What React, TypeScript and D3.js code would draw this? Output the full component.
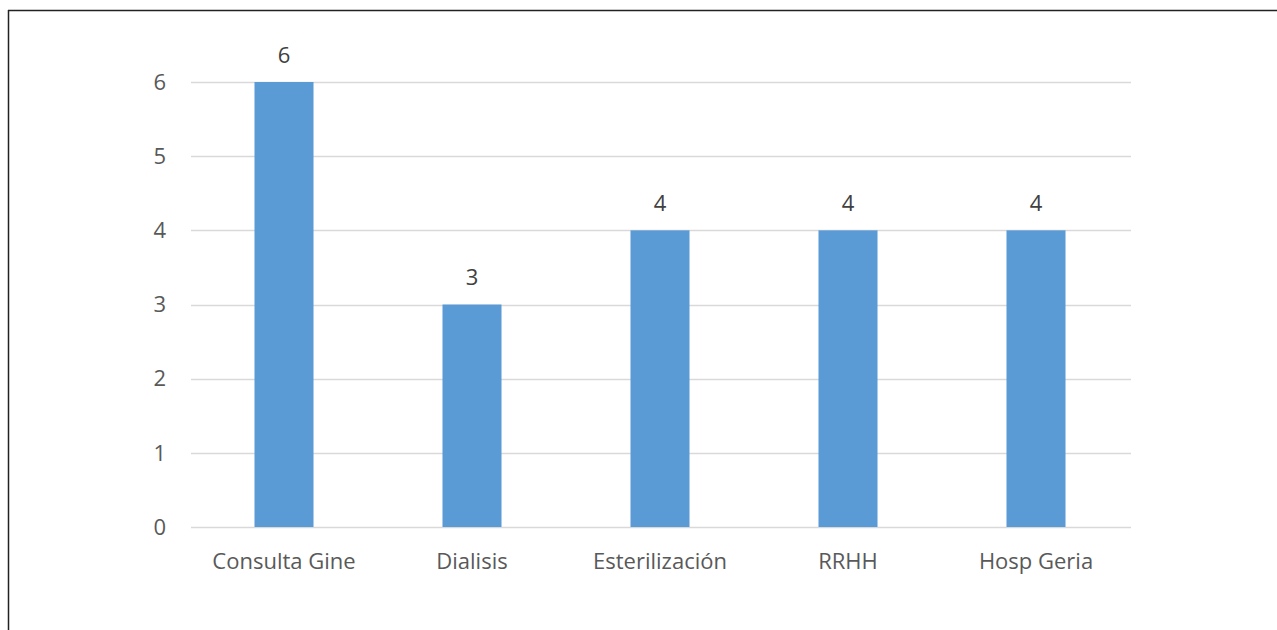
import React, { useEffect, useRef } from 'react';
import * as d3 from 'd3';

const categories = ['Consulta Gine', 'Dialisis', 'Esterilización', 'RRHH', 'Hosp Geria'];
const values = [6, 3, 4, 4, 4];
const yTicks = [0, 1, 2, 3, 4, 5, 6];

export default function App() {
  const svgRef = useRef<SVGSVGElement>(null);

  useEffect(() => {
    const W = 1277;
    const H = 630;
    const svg = d3.select(svgRef.current);
    svg.selectAll('*').remove();

    // frame of the chart area (left and top only are visible)
    svg.append('line').attr('x1', 8.5).attr('x2', 8.5).attr('y1', 10).attr('y2', H)
      .attr('stroke', '#222').attr('stroke-width', 1.5);
    svg.append('line').attr('x1', 8).attr('x2', W).attr('y1', 10.5).attr('y2', 10.5)
      .attr('stroke', '#222').attr('stroke-width', 1.5);

    const x = d3.scaleBand()
      .domain(categories)
      .range([190, 1130])
      .paddingInner(0.686)
      .paddingOuter(0.343);

    const y = d3.scaleLinear().domain([0, 6]).range([527, 82]);

    // grid lines
    svg.append('g')
      .selectAll('line')
      .data(yTicks)
      .enter()
      .append('line')
      .attr('x1', 191)
      .attr('x2', 1131)
      .attr('y1', (d) => Math.round(y(d)) + 0.5)
      .attr('y2', (d) => Math.round(y(d)) + 0.5)
      .attr('stroke', '#d9d9d9')
      .attr('stroke-width', 1.5);

    // y tick labels
    svg.append('g')
      .selectAll('text')
      .data(yTicks)
      .enter()
      .append('text')
      .attr('x', 166)
      .attr('y', (d) => y(d))
      .attr('dy', '0.35em')
      .attr('text-anchor', 'end')
      .attr('font-family', 'Open Sans')
      .attr('font-size', '22px')
      .attr('fill', '#595959')
      .text((d) => d);

    // bars
    svg.append('g')
      .selectAll('rect')
      .data(values)
      .enter()
      .append('rect')
      .attr('x', (d, i) => x(categories[i]) as number)
      .attr('y', (d) => y(d))
      .attr('width', x.bandwidth())
      .attr('height', (d) => y(0) - y(d))
      .attr('fill', '#5b9bd5');

    // data labels
    svg.append('g')
      .selectAll('text')
      .data(values)
      .enter()
      .append('text')
      .attr('x', (d, i) => (x(categories[i]) as number) + x.bandwidth() / 2)
      .attr('y', (d) => y(d) - 27)
      .attr('dy', '0.35em')
      .attr('text-anchor', 'middle')
      .attr('font-family', 'Open Sans')
      .attr('font-size', '22px')
      .attr('fill', '#404040')
      .text((d) => d);

    // category labels
    svg.append('g')
      .selectAll('text')
      .data(categories)
      .enter()
      .append('text')
      .attr('x', (d) => (x(d) as number) + x.bandwidth() / 2)
      .attr('y', 561)
      .attr('dy', '0.35em')
      .attr('text-anchor', 'middle')
      .attr('font-family', 'Open Sans')
      .attr('font-size', '22px')
      .attr('fill', '#595959')
      .text((d) => d);
  }, []);

  return (
    <div style={{ position: 'absolute', left: 0, top: 0 }}>
      <svg ref={svgRef} width={1277} height={630} style={{ display: 'block', background: '#fff' }} />
    </div>
  );
}
